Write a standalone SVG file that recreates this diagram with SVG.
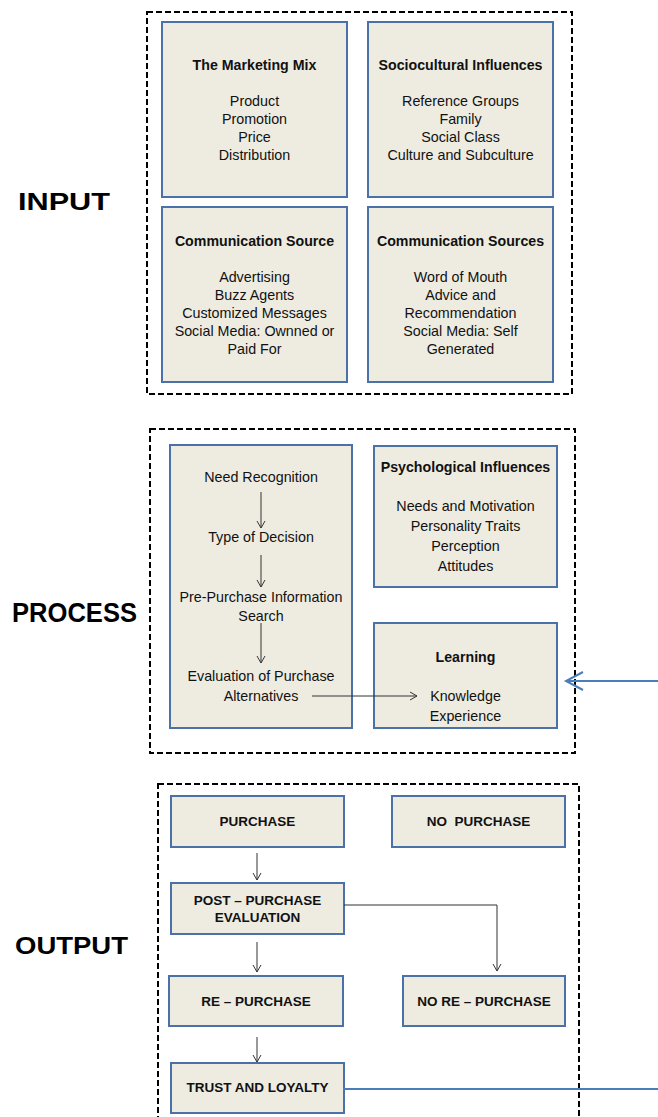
<svg xmlns="http://www.w3.org/2000/svg" width="658" height="1117" viewBox="0 0 658 1117">
<defs>
<style>
.frame{fill:none;stroke:#000;stroke-width:2;stroke-dasharray:6,3}
.box{fill:#eeece1;stroke:#4a72a8;stroke-width:2}
.t{font-family:"Liberation Sans",Arial,sans-serif;font-size:14.3px;fill:#111;text-anchor:middle}
.h{font-family:"Liberation Sans",Arial,sans-serif;font-size:14.2px;font-weight:bold;fill:#111;text-anchor:middle}
.b{font-family:"Liberation Sans",Arial,sans-serif;font-size:13.5px;font-weight:bold;fill:#111;text-anchor:middle;white-space:pre}
.big{font-family:"Liberation Sans",Arial,sans-serif;font-weight:bold;fill:#000}
.c{fill:none;stroke:#333;stroke-width:1}
.blue{fill:none;stroke:#4a7ebb;stroke-width:2}
</style>
<marker id="ah" markerWidth="10" markerHeight="10" refX="8" refY="5" orient="auto" markerUnits="userSpaceOnUse">
<path d="M1,1 L8,5 L1,9" fill="none" stroke="#333" stroke-width="1"/>
</marker>
</defs>

<g id="labels">
<text class="big" x="18" y="210" font-size="24" textLength="92" lengthAdjust="spacingAndGlyphs">INPUT</text>
<text class="big" x="12" y="622" font-size="27" textLength="125" lengthAdjust="spacingAndGlyphs">PROCESS</text>
<text class="big" x="15" y="954" font-size="24" textLength="113" lengthAdjust="spacingAndGlyphs">OUTPUT</text>
</g>

<g id="frames">
<rect class="frame" x="147" y="12" width="425" height="382"/>
<rect class="frame" x="150" y="429" width="425" height="324"/>
<rect class="frame" x="158" y="784" width="421" height="360"/>
</g>

<g id="marketing-mix">
<rect class="box" x="162" y="22" width="185" height="175"/>
<text class="h" x="254.5" y="70">The Marketing Mix</text>
<text class="t" x="254.5" y="106">Product</text>
<text class="t" x="254.5" y="124">Promotion</text>
<text class="t" x="254.5" y="142">Price</text>
<text class="t" x="254.5" y="160">Distribution</text>
</g>

<g id="sociocultural">
<rect class="box" x="368" y="22" width="185" height="175"/>
<text class="h" x="460.5" y="70">Sociocultural Influences</text>
<text class="t" x="460.5" y="106">Reference Groups</text>
<text class="t" x="460.5" y="124">Family</text>
<text class="t" x="460.5" y="142">Social Class</text>
<text class="t" x="460.5" y="160">Culture and Subculture</text>
</g>

<g id="comm-source">
<rect class="box" x="162" y="207" width="185" height="175"/>
<text class="h" x="254.5" y="246">Communication Source</text>
<text class="t" x="254.5" y="282">Advertising</text>
<text class="t" x="254.5" y="300">Buzz Agents</text>
<text class="t" x="254.5" y="318">Customized Messages</text>
<text class="t" x="254.5" y="336">Social Media: Ownned or</text>
<text class="t" x="254.5" y="354">Paid For</text>
</g>

<g id="comm-sources">
<rect class="box" x="368" y="207" width="185" height="175"/>
<text class="h" x="460.5" y="246">Communication Sources</text>
<text class="t" x="460.5" y="282">Word of Mouth</text>
<text class="t" x="460.5" y="300">Advice and</text>
<text class="t" x="460.5" y="318">Recommendation</text>
<text class="t" x="460.5" y="336">Social Media: Self</text>
<text class="t" x="460.5" y="354">Generated</text>
</g>

<g id="decision-process">
<rect class="box" x="170" y="445" width="182" height="283"/>
<text class="t" x="261" y="482">Need Recognition</text>
<text class="t" x="261" y="542">Type of Decision</text>
<text class="t" x="261" y="602">Pre-Purchase Information</text>
<text class="t" x="261" y="621">Search</text>
<text class="t" x="261" y="681">Evaluation of Purchase</text>
<text class="t" x="261" y="701">Alternatives</text>
</g>

<g id="psychological">
<rect class="box" x="374" y="446" width="183" height="141"/>
<text class="h" x="465.5" y="472">Psychological Influences</text>
<text class="t" x="465.5" y="511">Needs and Motivation</text>
<text class="t" x="465.5" y="531">Personality Traits</text>
<text class="t" x="465.5" y="551">Perception</text>
<text class="t" x="465.5" y="571">Attitudes</text>
</g>

<g id="learning">
<rect class="box" x="374" y="623" width="183" height="105"/>
<text class="h" x="465.5" y="662">Learning</text>
<text class="t" x="465.5" y="701">Knowledge</text>
<text class="t" x="465.5" y="721">Experience</text>
</g>

<g id="purchase">
<rect class="box" x="171" y="796" width="173" height="51"/>
<text class="b" x="257.5" y="826">PURCHASE</text>
</g>
<g id="no-purchase">
<rect class="box" x="392" y="796" width="173" height="51"/>
<text class="b" x="478.5" y="826">NO  PURCHASE</text>
</g>
<g id="post-purchase">
<rect class="box" x="171" y="883" width="173" height="51"/>
<text class="b" x="257.5" y="905">POST – PURCHASE</text>
<text class="b" x="257.5" y="922">EVALUATION</text>
</g>
<g id="re-purchase">
<rect class="box" x="169" y="976" width="174" height="50"/>
<text class="b" x="256" y="1006">RE – PURCHASE</text>
</g>
<g id="no-re-purchase">
<rect class="box" x="403" y="976" width="162" height="50"/>
<text class="b" x="484" y="1006">NO RE – PURCHASE</text>
</g>
<g id="trust">
<rect class="box" x="171" y="1063" width="173" height="50"/>
<text class="b" x="257.5" y="1092">TRUST AND LOYALTY</text>
</g>

<g id="connectors">
<line class="c" x1="261" y1="492" x2="261" y2="528" marker-end="url(#ah)"/>
<line class="c" x1="261" y1="555" x2="261" y2="587" marker-end="url(#ah)"/>
<line class="c" x1="261" y1="623" x2="261" y2="663" marker-end="url(#ah)"/>
<line class="c" x1="312" y1="696" x2="417" y2="696" marker-end="url(#ah)"/>
<line class="c" x1="257" y1="853" x2="257" y2="880" marker-end="url(#ah)"/>
<polyline class="c" points="344,905 497,905 497,971" marker-end="url(#ah)"/>
<line class="c" x1="257" y1="942" x2="257" y2="972" marker-end="url(#ah)"/>
<line class="c" x1="257" y1="1037" x2="257" y2="1062" marker-end="url(#ah)"/>
<line class="blue" x1="566" y1="681" x2="658" y2="681"/>
<polyline class="blue" points="583,672 566,681 583,690"/>
<line class="blue" x1="343" y1="1089" x2="658" y2="1089"/>
</g>
</svg>
